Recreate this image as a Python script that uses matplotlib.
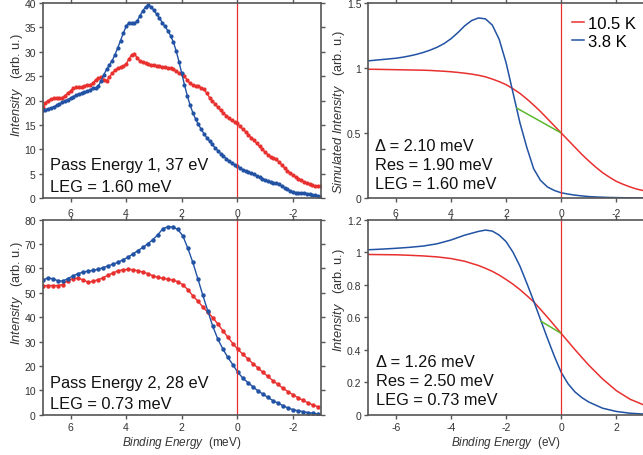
import numpy as np
import matplotlib
matplotlib.use("Agg")
import matplotlib.pyplot as plt

plt.rcParams['font.family'] = ['Liberation Sans', 'DejaVu Sans']
plt.rcParams['mathtext.fontset'] = 'custom'
plt.rcParams['mathtext.rm'] = 'Liberation Sans'
plt.rcParams['mathtext.it'] = 'Liberation Sans:italic'
plt.rcParams['axes.unicode_minus'] = False

RED = '#e8302f'
BLUE = '#2152a3'
GREEN = '#5cb82e'
SPINE = '#555555'
TXT = '#333333'

# ---- measured spectra, pass energy 1 (binding energy in meV) ----
be_pe1 = np.round(np.arange(7.0, -3.0001, -0.1), 2)
pe1_cold = [18.0, 18.1, 18.3, 18.5, 18.7, 19.0, 19.3, 19.6, 19.9, 20.2,
            20.5, 20.8, 21.1, 21.3, 21.5, 21.7, 21.9, 22.2, 22.5, 22.5,
            23.0, 24.0, 25.3, 26.4, 27.3, 28.2, 29.4, 30.8, 32.3, 33.8,
            35.2, 36.0, 35.9, 35.8, 36.3, 37.4, 38.4, 39.2, 39.5, 39.2,
            38.5, 37.7, 36.9, 36.0, 35.2, 34.3, 33.3, 32.0, 30.2, 28.0,
            25.6, 23.2, 21.0, 19.1, 17.5, 16.2, 15.1, 14.1, 13.2, 12.4,
            11.7, 11.0, 10.3, 9.7, 9.1, 8.6, 8.1, 7.6, 7.2, 6.8,
            6.5, 6.1, 5.8, 5.5, 5.3, 5.1, 4.9, 4.6, 4.3, 4.0,
            3.7, 3.5, 3.3, 3.1, 3.0, 2.8, 2.5, 2.1, 1.8, 1.5,
            1.2, 1.1, 1.1, 1.0, 1.0, 0.9, 0.8, 0.7, 0.6, 0.4, 0.3]
pe1_warm = [18.6, 19.5, 20.0, 20.3, 20.5, 20.6, 20.5, 20.6, 21.0, 21.5,
            22.0, 22.5, 22.7, 22.8, 22.8, 23.0, 23.2, 23.2, 23.6, 24.2,
            24.6, 24.8, 24.3, 24.1, 24.8, 25.6, 26.2, 26.6, 26.8, 27.0,
            27.5, 28.5, 29.4, 29.5, 28.8, 28.1, 27.8, 27.7, 27.5, 27.3,
            27.3, 27.0, 27.0, 26.9, 26.9, 26.7, 26.6, 26.4, 26.0, 25.7,
            25.5, 25.0, 24.2, 23.5, 23.2, 23.0, 22.9, 22.6, 22.3, 21.5,
            20.6, 19.9, 19.3, 18.6, 18.0, 17.4, 16.9, 16.4, 15.9, 15.6,
            15.3, 14.7, 14.1, 13.6, 13.0, 12.4, 11.8, 11.2, 10.6, 10.0,
            9.4, 8.9, 8.5, 8.2, 7.9, 7.4, 6.8, 6.2, 5.6, 5.1,
            4.7, 4.3, 4.0, 3.6, 3.3, 3.0, 2.8, 2.6, 2.5, 2.5, 2.4]

# ---- measured spectra, pass energy 2 ----
be_pe2 = np.round(7.0 - 0.18 * np.arange(56), 2)
pe2_cold = [55.2, 56.1, 55.8, 55.0, 54.8, 55.8, 56.9, 57.8, 58.5, 58.9,
            59.2, 59.6, 60.3, 61.0, 61.7, 62.5, 63.5, 64.6, 65.9, 67.3,
            68.6, 70.1, 71.8, 73.8, 76.3, 77.1, 77.0, 76.0, 73.4, 68.3,
            62.5, 55.8, 49.0, 42.5, 36.2, 31.0, 27.0, 23.5, 20.5, 17.4,
            15.0, 13.2, 11.5, 9.8, 8.5, 7.1, 5.8, 4.8, 3.7, 2.8,
            2.1, 1.6, 1.3, 0.9, 0.6, 0.3]
pe2_warm = [52.9, 53.0, 53.0, 53.0, 53.4, 55.0, 55.8, 56.0, 55.4, 54.4,
            54.7, 55.4, 56.1, 57.2, 58.1, 59.0, 59.5, 59.6, 59.5, 59.1,
            58.5, 57.9, 57.0, 56.3, 56.0, 55.6, 55.2, 54.6, 53.3, 51.3,
            48.8, 46.6, 44.2, 42.0, 39.8, 37.2, 34.5, 31.8, 29.2, 26.8,
            24.8, 22.9, 21.0, 19.2, 17.4, 15.7, 14.0, 12.4, 10.9, 9.5,
            8.2, 7.0, 5.9, 4.9, 4.0, 3.3]

# ---- simulated spectra, parameter set 1 (binding energy) ----
be_sim1 = np.round(np.arange(7.0, -3.0001, -0.25), 2)
sim1_cold = [1.055, 1.060, 1.065, 1.070, 1.075, 1.083, 1.093, 1.105, 1.120, 1.138,
             1.160, 1.188, 1.225, 1.272, 1.325, 1.365, 1.385, 1.378, 1.330, 1.220,
             1.040, 0.810, 0.580, 0.390, 0.225, 0.135, 0.085, 0.058, 0.040, 0.030,
             0.022, 0.016, 0.011, 0.008, 0.006, 0.004, 0.003, 0.002, 0.001, 0.001, 0.0]
sim1_warm = [0.990, 0.990, 0.989, 0.988, 0.987, 0.986, 0.985, 0.984, 0.983, 0.981,
             0.978, 0.975, 0.971, 0.966, 0.960, 0.953, 0.944, 0.932, 0.915, 0.895,
             0.872, 0.840, 0.805, 0.762, 0.715, 0.665, 0.610, 0.555, 0.500, 0.445,
             0.390, 0.335, 0.285, 0.238, 0.195, 0.160, 0.128, 0.105, 0.085, 0.068, 0.056]
leg1_x = [1.60, 0.0]
leg1_y = [0.69, 0.50]

# ---- simulated spectra, parameter set 2 (energy in eV, E - E_F) ----
e_sim2 = [-7.0, -6.5, -6.0, -5.5, -5.0, -4.5, -4.0, -3.5, -3.0, -2.75,
          -2.5, -2.25, -2.0, -1.75, -1.5, -1.25, -1.0, -0.75, -0.5, -0.25,
          0.0, 0.25, 0.5, 0.75, 1.0, 1.5, 2.0, 2.5, 3.0]
sim2_cold = [1.015, 1.019, 1.024, 1.030, 1.038, 1.052, 1.075, 1.105, 1.128, 1.136,
             1.130, 1.105, 1.065, 1.000, 0.915, 0.810, 0.700, 0.585, 0.470, 0.360,
             0.260, 0.190, 0.140, 0.105, 0.078, 0.040, 0.020, 0.009, 0.004]
sim2_warm = [0.986, 0.985, 0.984, 0.981, 0.977, 0.971, 0.961, 0.944, 0.918, 0.901,
             0.882, 0.859, 0.832, 0.803, 0.770, 0.733, 0.695, 0.648, 0.600, 0.550,
             0.500, 0.450, 0.400, 0.352, 0.305, 0.220, 0.148, 0.095, 0.060]
leg2_x = [-0.73, 0.0]
leg2_y = [0.575, 0.50]

W, H = 643, 456
fig = plt.figure(figsize=(W / 100, H / 100), dpi=100)


def px_axes(x0, y0, x1, y1):
    return fig.add_axes([x0 / W, 1 - y1 / H, (x1 - x0) / W, (y1 - y0) / H])


def style(ax):
    for s in ax.spines.values():
        s.set_color(SPINE)
        s.set_linewidth(1.2)
    ax.tick_params(direction='out', length=3, width=1, color=SPINE,
                   labelcolor=TXT, labelsize=7.5, pad=2,
                   top=True, right=True, labeltop=False, labelright=False)


def ftext(x, y, s, size=11.8, **kw):
    fig.text(x / W, 1 - y / H, s, fontsize=size, color='#111111',
             va='baseline', ha='left', **kw)


def ylabel_at(x, y, s):
    fig.text(x / W, 1 - y / H, s, fontsize=9.2, color=TXT, rotation=90,
             ha='center', va='center')


# top-left
ax1 = px_axes(42.7, 4, 320.7, 199)
ax1.plot(be_pe1, pe1_warm, '-o', color=RED, ms=3, lw=1, mew=0)
ax1.plot(be_pe1, pe1_cold, '-o', color=BLUE, ms=3, lw=1, mew=0)
ax1.axvline(0, color=RED, lw=0.9)
ax1.set_xlim(7, -3)
ax1.set_ylim(0, 40)
ax1.set_xticks([6, 4, 2, 0, -2])
ax1.set_yticks(range(0, 41, 5))
style(ax1)
ax1.tick_params(axis='x', pad=4)
ylabel_at(17, 85, r'$\it{Intensity}$   (arb. u.)')
ftext(50, 170.5, 'Pass Energy 1, 37 eV')
ftext(50, 192.5, 'LEG = 1.60 meV')

# bottom-left
ax3 = px_axes(42.7, 220.7, 320.7, 415.7)
ax3.plot(be_pe2, pe2_warm, '-o', color=RED, ms=3.2, lw=1, mew=0)
ax3.plot(be_pe2, pe2_cold, '-o', color=BLUE, ms=3.2, lw=1, mew=0)
ax3.axvline(0, color=RED, lw=0.9)
ax3.set_xlim(7, -3)
ax3.set_ylim(0, 80)
ax3.set_xticks([6, 4, 2, 0, -2])
ax3.set_yticks(range(0, 81, 10))
style(ax3)
ylabel_at(17, 293, r'$\it{Intensity}$   (arb. u.)')
ax3.set_xlabel(r'$\it{Binding\ Energy}$  (meV)', fontsize=8.5, color=TXT, labelpad=2)
ftext(50, 388, 'Pass Energy 2, 28 eV')
ftext(50, 409, 'LEG = 0.73 meV')

# top-right
ax2 = px_axes(368.3, 4, 643.9, 199)
ax2.plot(be_sim1, sim1_warm, color=RED, lw=1.1, label='10.5 K')
ax2.plot(be_sim1, sim1_cold, color=BLUE, lw=1.1, label='3.8 K')
ax2.plot(leg1_x, leg1_y, color=GREEN, lw=1.1)
ax2.axvline(0, color=RED, lw=0.9)
ax2.set_xlim(7, -3)
ax2.set_ylim(0, 1.5)
ax2.set_xticks([6, 4, 2, 0, -2])
ax2.set_yticks([0, 0.5, 1, 1.5])
ax2.set_yticklabels(['0', '0.5', '1', '1.5'])
style(ax2)
ax2.tick_params(axis='x', pad=4)
ylabel_at(339, 112, r'$\it{Simulated\ Intensity}$   (arb. u.)')
ax2.legend(loc='upper right', bbox_to_anchor=(1.025, 1.01), frameon=False,
           fontsize=12, handlelength=0.7, handletextpad=0.25, labelspacing=0.15)
ftext(375, 151, '\u0394 = 2.10 meV')
ftext(375, 170, 'Res = 1.90 meV')
ftext(375, 189, 'LEG = 1.60 meV')

# bottom-right
ax4 = px_axes(368.3, 220.7, 643.9, 415.7)
ax4.plot(e_sim2, sim2_warm, color=RED, lw=1.1)
ax4.plot(e_sim2, sim2_cold, color=BLUE, lw=1.1)
ax4.plot(leg2_x, leg2_y, color=GREEN, lw=1.1)
ax4.axvline(0, color=RED, lw=0.9)
ax4.set_xlim(-7, 3)
ax4.set_ylim(0, 1.2)
ax4.set_xticks([-6, -4, -2, 0, 2])
ax4.set_yticks([0, 0.2, 0.4, 0.6, 0.8, 1.0, 1.2])
ax4.set_yticklabels(['0', '0.2', '0.4', '0.6', '0.8', '1', '1.2'])
style(ax4)
ylabel_at(339, 300, r'$\it{Intensity}$   (arb. u.)')
ax4.set_xlabel(r'$\it{Binding\ Energy}$  (eV)', fontsize=8.5, color=TXT, labelpad=2)
ftext(375.7, 367, '\u0394 = 1.26 meV')
ftext(375.7, 386, 'Res = 2.50 meV')
ftext(375.7, 405, 'LEG = 0.73 meV')

fig.savefig('out.png', dpi=100)
